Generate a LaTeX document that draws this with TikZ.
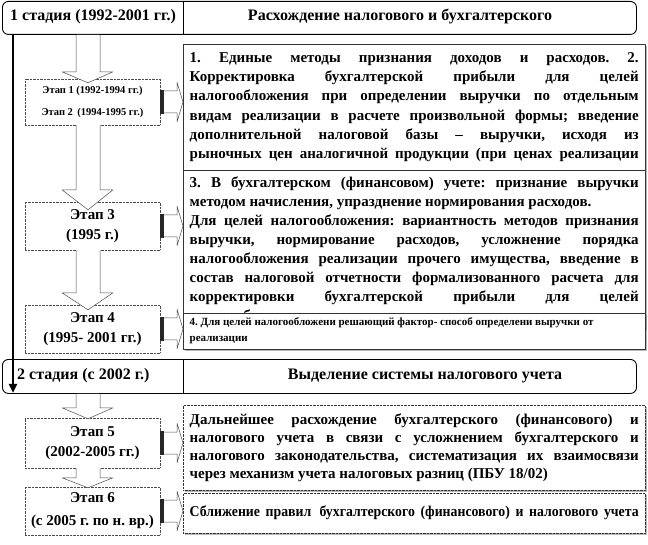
\documentclass[tikz,border=0pt]{standalone}
\usepackage{fontspec}
\setmainfont{Liberation Serif}
\newfontfamily\narrowserif[FakeStretch=0.92]{Liberation Serif}
\usetikzlibrary{arrows.meta,calc,shadows}
\frenchspacing

\newcommand{\jl}[1]{\makebox[\hsize][s]{\spaceskip=0pt\xspaceskip=0pt\relax #1}\par}
\newcommand{\nl}[1]{\mbox{#1}\par}

% block arrow downwards: from node, to node, overlap, head length
\newcommand{\blockdown}[4]{%
  \draw[blockarrow] let \p1=(#1.south), \p2=(#2.north) in
    (76,\y1) -- (76,\y2-#3pt+#4pt) -- (62,\y2-#3pt+#4pt) -- (88,\y2-#3pt)
    -- (113,\y2-#3pt+#4pt) -- (100,\y2-#3pt+#4pt) -- (100,\y1);
}
% block arrow to the right, with its dark end bar
\newcommand{\blockright}[2]{%
  \fill[black!85] let \p1=(#1.east) in (\x1,\y1-12pt) rectangle (\x1+4pt,\y1+12pt);
  \draw[blockarrow] let \p1=(#1.east), \p2=(#2.west) in
    (\x1+4pt,\y1+11pt) -- (\x2-6pt,\y1+11pt) -- (\x2-6pt,\y1+20pt) -- (\x2,\y1)
    -- (\x2-6pt,\y1-20pt) -- (\x2-6pt,\y1-11pt) -- (\x1+4pt,\y1-11pt);
}

\begin{document}
\begin{tikzpicture}[x=1pt, y=-1pt, line join=round,
  stagebar/.style={draw, line width=0.9pt, rounded corners=6pt, fill=white,
    minimum width=634pt, inner sep=0pt, anchor=north west},
  stagetext/.style={inner sep=0pt, font=\fontsize{16}{19}\selectfont\bfseries},
  etapbox/.style={draw=black!70, densely dotted, fill=white, minimum width=135pt,
    align=center, inner sep=0pt, font=\fontsize{15}{20}\selectfont\bfseries},
  infobox/.style={draw=black!80, fill=white, anchor=north west, text width=449pt,
    align=justify, inner xsep=6.5pt, inner ysep=0pt, font=\fontsize{15}{19.3}\selectfont\bfseries,
    drop shadow={shadow xshift=1.5pt, shadow yshift=-1.5pt, fill=black!55}},
  dotbox/.style={infobox, densely dotted, drop shadow={shadow xshift=1pt, shadow yshift=-1pt, fill=black!40}},
  blockarrow/.style={draw=black!70, fill=white, line width=0.5pt},
  mainarrow/.style={line width=2.6pt, -{Triangle[length=9pt, width=8pt]}}]
  \useasboundingbox (0,0) rectangle (648,545);

  % Stage 1
  \node[stagebar, minimum height=33pt] (stage1) at (2,1) {};

  % Right column
  \node[infobox, minimum height=126pt] (boxA) at (183,44) {%
    \jl{1. Единые методы признания доходов и расходов. 2.}
    \jl{Корректировка бухгалтерской прибыли для целей}
    \jl{налогообложения при определении выручки по отдельным}
    \jl{видам реализации в расчете произвольной формы; введение}
    \jl{дополнительной налоговой базы -- выручки, исходя из}
    \jl{рыночных цен аналогичной продукции (при ценах реализации}};
  \node[infobox, minimum height=158pt, font=\fontsize{15}{19}\selectfont\bfseries] (boxB) at (183,170) {%
    \jl{3. В бухгалтерском (финансовом) учете: признание выручки}
    \nl{методом начисления, упразднение нормирования расходов.}
    \jl{Для целей налогообложения: вариантность методов признания}
    \jl{выручки, нормирование расходов, усложнение порядка}
    \jl{налогообложения реализации прочего имущества, введение в}
    \jl{состав налоговой отчетности формализованного расчета для}
    \jl{корректировки бухгалтерской прибыли для целей}
    \nl{налогообложения}};
  \node[infobox, minimum height=36pt, font=\fontsize{11}{16}\selectfont\bfseries] (boxC) at (183,313) {%
    \nl{4. Для целей налогообложени решающий фактор- способ определени выручки от}
    \nl{реализации}};

  % Stage 1 labels and divider
  \node[stagetext, anchor=west] (stage1name) at (10,17) {1 стадия (1992-2001 гг.)};
  \node[stagetext] (stage1title) at (400,17) {Расхождение налогового и бухгалтерского};
  \draw[line width=0.9pt] (stage1.north -| boxA.west) -- (stage1.south -| boxA.west);

  % Stages of period 1
  \node[etapbox, minimum height=46pt, font=\fontsize{10.5}{22}\selectfont\bfseries] (etap12) at (92.5,102)
    {Этап 1 (1992-1994 гг.)\\Этап 2\, (1994-1995 гг.)};
  \node[etapbox, minimum height=48pt] (etap3) at (92.5,226) {Этап 3\\(1995 г.)};
  \node[etapbox, minimum height=48pt] (etap4) at (92.5,329) {Этап 4\\(1995- 2001 гг.)};

  % Stage 2
  \node[stagebar, minimum height=34pt] (stage2) at (2,359) {};
  \node[stagetext, anchor=west] (stage2name) at (17,376) {2 стадия (с 2002 г.)};
  \node[stagetext] (stage2title) at (425,376) {Выделение системы налогового учета};

  \node[dotbox, minimum height=85pt, font=\fontsize{15}{18}\selectfont\bfseries] (boxD) at (183,405) {%
    \jl{Дальнейшее расхождение бухгалтерского (финансового) и}
    \jl{налогового учета в связи с усложнением бухгалтерского и}
    \jl{налогового законодательства, систематизация их взаимосвязи}
    \nl{через механизм учета налоговых разниц (ПБУ 18/02)}};
  \node[dotbox, minimum height=40pt, font=\narrowserif\fontsize{15}{18}\selectfont\bfseries] (boxE) at (183,493) {%
    \jl{Сближение правил\, бухгалтерского (финансового) и налогового учета}};
  \draw[line width=0.9pt] (stage2.north -| boxA.west) -- (stage2.south -| boxA.west);

  % Stages of period 2
  \node[etapbox, minimum height=50pt] (etap5) at (92.5,443) {Этап 5\\(2002-2005 гг.)};
  \node[etapbox, minimum height=48pt] (etap6) at (92.5,511) {Этап 6\\[3pt](с 2005 г. по н. вр.)};

  % Block arrows
  \blockdown{stage1}{etap12}{4}{11}
  \blockdown{etap12}{etap3}{8}{20}
  \blockdown{etap3}{etap4}{5}{17}
  \blockdown{stage2}{etap5}{1}{11}
  \blockdown{etap5}{etap6}{1}{10}
  \blockright{etap12}{boxA}
  \blockright{etap3}{boxB}
  \blockright{etap4}{boxC}
  \blockright{etap5}{boxD}
  \blockright{etap6}{boxE}

  % Time line
  \draw[mainarrow] ([xshift=11pt]stage1.south west) -- ([xshift=11pt, yshift=1pt]stage2.south west);
\end{tikzpicture}
\end{document}
